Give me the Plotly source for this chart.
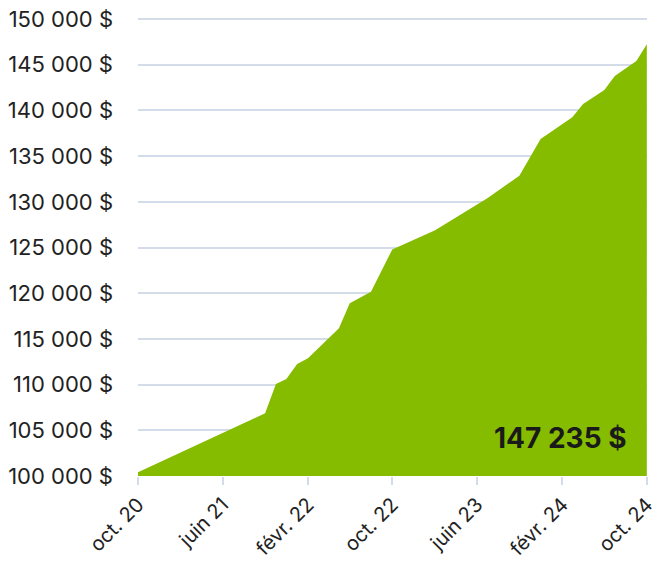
import plotly.graph_objects as go

dates = ["2020-10-01", "2021-10-01", "2021-11-01", "2021-12-01", "2022-01-01",
         "2022-02-01", "2022-05-01", "2022-06-01", "2022-08-01", "2022-10-01",
         "2023-02-01", "2023-07-01", "2023-10-01", "2023-12-01", "2024-03-01",
         "2024-04-01", "2024-06-01", "2024-07-01", "2024-09-01", "2024-10-01"]
values = [100400, 106860, 110070, 110610, 112250,
          112870, 116160, 118900, 120170, 124780,
          126900, 130380, 132860, 136870, 139250,
          140700, 142230, 143760, 145400, 147235]

x_tick_vals = ["2020-10-01", "2021-06-01", "2022-02-01", "2022-10-01",
               "2023-06-01", "2024-02-01", "2024-10-01"]
x_tick_text = ["oct. 20", "juin 21", "févr. 22", "oct. 22", "juin 23", "févr. 24", "oct. 24"]
y_tick_vals = [100000, 105000, 110000, 115000, 120000, 125000,
               130000, 135000, 140000, 145000, 150000]
y_tick_text = ["100 000 $", "105 000 $", "110 000 $", "115 000 $", "120 000 $", "125 000 $",
               "130 000 $", "135 000 $", "140 000 $", "145 000 $", "150 000 $"]
final_label = "147 235 $"

fig = go.Figure()
fig.add_trace(go.Scatter(
    x=dates, y=values, mode="lines", fill="tozeroy",
    line=dict(color="#86bc00", width=0), fillcolor="#86bc00",
    hoverinfo="skip", showlegend=False,
))

fig.add_annotation(
    x=dates[-1], y=104200, xref="x", yref="y", text="<b>" + final_label + "</b>",
    showarrow=False, xanchor="right", yanchor="middle", xshift=-18,
    font=dict(family="Inter", size=28, color="#1a1a1a"),
)

grid = "#d3dce8"
fig.update_layout(
    width=653, height=564,
    margin=dict(l=138, r=6, t=18, b=88),
    paper_bgcolor="white", plot_bgcolor="white",
    font=dict(family="Inter", color="#222222"),
    xaxis=dict(
        type="date", range=["2020-10-01", "2024-10-01 12:00"],
        tickvals=x_tick_vals, ticktext=x_tick_text, tickangle=-45,
        showgrid=False, zeroline=False, showline=False, automargin=False,
        ticks="outside", ticklen=8, tickwidth=2, tickcolor=grid,
        ticklabeloverflow="allow",
        tickfont=dict(family="Inter", size=20, color="#222222"),
    ),
    yaxis=dict(
        range=[100000, 150110], tickvals=y_tick_vals, ticktext=y_tick_text,
        showgrid=True, gridcolor=grid, gridwidth=2, zeroline=False, showline=False,
        ticks="", ticklabelstandoff=24, automargin=False,
        ticklabeloverflow="allow",
        tickfont=dict(family="Inter", size=22, color="#222222"),
    ),
)

fig.write_html(
    "out.html",
    config={"displayModeBar": False, "staticPlot": True},
    post_script="document.body.style.margin='0';document.body.style.overflow='hidden';",
)
